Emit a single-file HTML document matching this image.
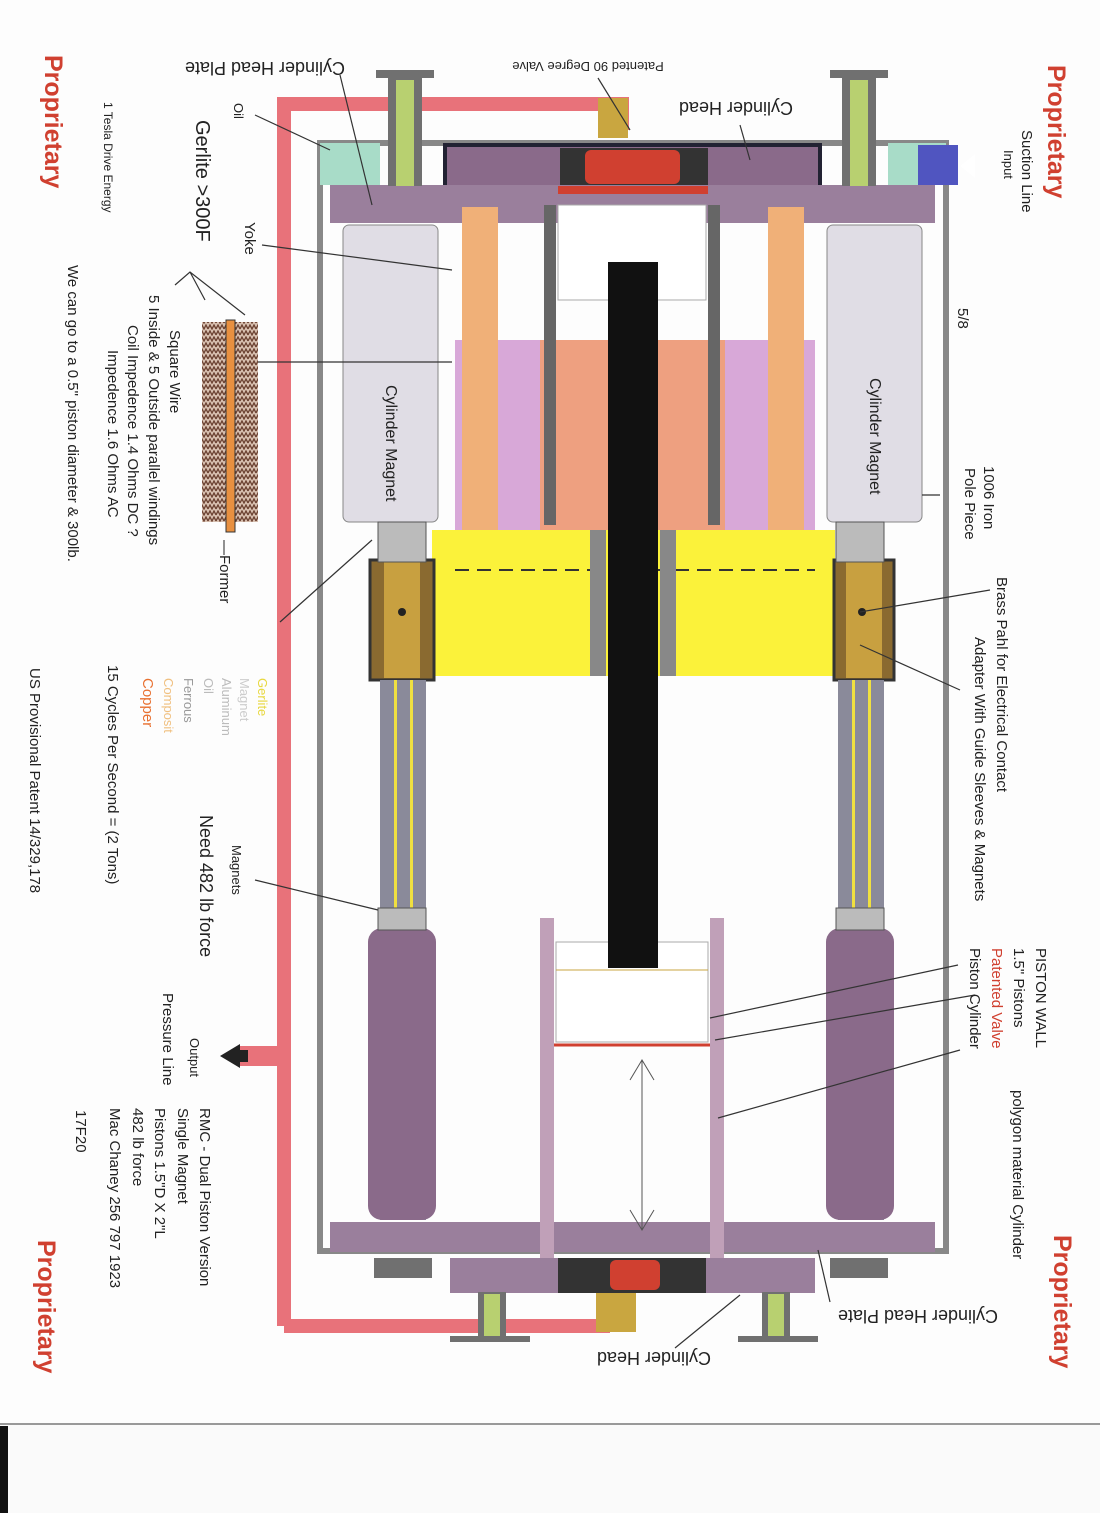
<!DOCTYPE html>
<html><head><meta charset="utf-8"><style>
html,body{margin:0;padding:0;background:#fff}
svg{display:block}
text{font-family:"Liberation Sans",sans-serif;fill:#222}
</style></head><body>
<svg width="1100" height="1513" viewBox="0 0 1100 1513" xmlns="http://www.w3.org/2000/svg">
<defs>
<pattern id="zz" width="8" height="6" patternUnits="userSpaceOnUse">
<rect width="8" height="6" fill="#d8c0b0"/>
<path d="M0 5 L2 1 L4 5 L6 1 L8 5" fill="none" stroke="#6a4030" stroke-width="1.3"/>
</pattern>
</defs>
<rect width="1100" height="1513" fill="#fdfdfd"/>
<rect x="0" y="1424" width="1100" height="89" fill="#fafafa"/>
<line x1="0" y1="1424" x2="1100" y2="1424" stroke="#999" stroke-width="2"/>
<rect x="0" y="1426" width="8" height="87" fill="#111"/>

<path d="M284 1326 L284 104 L622 104 L622 130" fill="none" stroke="#e8727a" stroke-width="14"/>
<path d="M284 1326 L610 1326" fill="none" stroke="#e8727a" stroke-width="14"/>
<rect x="598" y="98" width="30" height="40" fill="#c9a640"/>
<rect x="596" y="1292" width="40" height="40" fill="#c9a640"/>
<rect x="240" y="1046" width="40" height="20" fill="#e8727a"/>
<polygon points="220,1056 240,1044 240,1068" fill="#222"/>
<rect x="232" y="1050" width="16" height="12" fill="#222"/>

<rect x="320" y="143" width="626" height="1108" fill="none" stroke="#888" stroke-width="6"/>
<rect x="320" y="143" width="60" height="42" fill="#a8dcc8"/>
<rect x="888" y="143" width="58" height="42" fill="#a8dcc8"/>
<rect x="918" y="145" width="40" height="40" fill="#5055c0"/>
<polygon points="960,166 975,154 975,178" fill="#fff"/>
<rect x="445" y="145" width="375" height="42" fill="#8a6a8a" stroke="#223" stroke-width="4"/>
<rect x="560" y="148" width="148" height="38" fill="#333"/>
<rect x="585" y="150" width="95" height="34" rx="6" fill="#d04030"/>
<rect x="330" y="185" width="605" height="38" fill="#9a7f9c"/>
<rect x="558" y="186" width="150" height="8" fill="#d04030"/>
<rect x="330" y="1222" width="605" height="30" fill="#9a7f9c"/>
<rect x="450" y="1258" width="365" height="35" fill="#9a7f9c"/>
<rect x="558" y="1258" width="148" height="35" fill="#333"/>
<rect x="610" y="1260" width="50" height="30" rx="6" fill="#d04030"/>

<g fill="#707070">
<rect x="376" y="70" width="58" height="8"/><rect x="830" y="70" width="58" height="8"/>
<rect x="388" y="78" width="34" height="108"/><rect x="842" y="78" width="34" height="108"/>
<rect x="374" y="1258" width="58" height="20"/><rect x="830" y="1258" width="58" height="20"/>
<rect x="478" y="1292" width="28" height="45"/><rect x="762" y="1292" width="28" height="45"/>
<rect x="450" y="1336" width="80" height="6"/><rect x="738" y="1336" width="80" height="6"/>
</g>
<rect x="396" y="80" width="18" height="106" fill="#b8d070"/>
<rect x="850" y="80" width="18" height="106" fill="#b8d070"/>
<rect x="484" y="1294" width="16" height="42" fill="#b8d070"/>
<rect x="768" y="1294" width="16" height="42" fill="#b8d070"/>

<rect x="343" y="225" width="95" height="297" rx="6" fill="#e0dde5" stroke="#888"/>
<rect x="827" y="225" width="95" height="297" rx="6" fill="#e0dde5" stroke="#888"/>
<rect x="455" y="340" width="360" height="190" fill="#d8a8d8"/>
<rect x="540" y="340" width="185" height="190" fill="#eea080"/>
<rect x="462" y="207" width="36" height="323" fill="#f0b078"/>
<rect x="768" y="207" width="36" height="323" fill="#f0b078"/>
<rect x="544" y="205" width="12" height="320" fill="#666"/>
<rect x="708" y="205" width="12" height="320" fill="#666"/>
<rect x="558" y="205" width="148" height="95" fill="#fff" stroke="#aaa"/>
<rect x="432" y="530" width="403" height="146" fill="#fbf23a"/>
<line x1="455" y1="570" x2="815" y2="570" stroke="#333" stroke-dasharray="14,8" stroke-width="2"/>
<rect x="590" y="530" width="16" height="146" fill="#888"/>
<rect x="660" y="530" width="16" height="146" fill="#888"/>
<rect x="370" y="560" width="64" height="120" fill="#8a6a30" stroke="#333" stroke-width="3"/>
<rect x="834" y="560" width="60" height="120" fill="#8a6a30" stroke="#333" stroke-width="3"/>
<rect x="384" y="562" width="36" height="116" fill="#c8a040"/>
<rect x="846" y="562" width="36" height="116" fill="#c8a040"/>
<circle cx="402" cy="612" r="4" fill="#222"/><circle cx="862" cy="612" r="4" fill="#222"/>
<rect x="380" y="680" width="46" height="540" fill="#8a8a9a"/>
<rect x="838" y="680" width="46" height="540" fill="#8a8a9a"/>
<rect x="394" y="680" width="3" height="540" fill="#f0e040"/><rect x="410" y="680" width="3" height="540" fill="#f0e040"/>
<rect x="852" y="680" width="3" height="540" fill="#f0e040"/><rect x="868" y="680" width="3" height="540" fill="#f0e040"/>
<rect x="368" y="928" width="68" height="292" rx="14" fill="#8a6a8a"/>
<rect x="826" y="928" width="68" height="292" rx="14" fill="#8a6a8a"/>
<rect x="378" y="908" width="48" height="22" fill="#bbb" stroke="#555"/>
<rect x="836" y="908" width="48" height="22" fill="#bbb" stroke="#555"/>
<rect x="378" y="522" width="48" height="40" fill="#bbb" stroke="#555"/>
<rect x="836" y="522" width="48" height="40" fill="#bbb" stroke="#555"/>
<rect x="556" y="942" width="152" height="100" fill="#fff" stroke="#aaa"/>
<line x1="556" y1="970" x2="708" y2="970" stroke="#c9a640"/>
<rect x="608" y="262" width="50" height="706" fill="#111"/>
<rect x="540" y="918" width="14" height="340" fill="#c0a0b8"/>
<rect x="710" y="918" width="14" height="340" fill="#c0a0b8"/>
<line x1="554" y1="1045" x2="710" y2="1045" stroke="#d04030" stroke-width="3"/>
<line x1="642" y1="1060" x2="642" y2="1230" stroke="#555"/>
<path d="M630 1080 L642 1060 L654 1080 M630 1210 L642 1230 L654 1210" fill="none" stroke="#555"/>

<g stroke="#333" stroke-width="1.2" fill="none">
<line x1="262" y1="245" x2="452" y2="270"/>
<line x1="258" y1="362" x2="452" y2="362"/>
<line x1="280" y1="622" x2="372" y2="540"/>
<line x1="255" y1="880" x2="378" y2="910"/>
<line x1="940" y1="495" x2="922" y2="495"/>
<line x1="990" y1="590" x2="860" y2="612"/>
<line x1="960" y1="690" x2="860" y2="645"/>
<line x1="958" y1="965" x2="710" y2="1018"/>
<line x1="975" y1="995" x2="715" y2="1040"/>
<line x1="960" y1="1050" x2="718" y2="1118"/>
<line x1="830" y1="1302" x2="818" y2="1250"/>
<line x1="675" y1="1348" x2="740" y2="1295"/>
<line x1="255" y1="115" x2="330" y2="150"/>
<line x1="340" y1="75" x2="372" y2="205"/>
<line x1="740" y1="125" x2="750" y2="160"/>
<line x1="598" y1="78" x2="630" y2="130"/>
<path d="M175 285 L190 272 L245 315 M190 272 L205 300"/>
</g>
<rect x="202" y="322" width="56" height="200" fill="url(#zz)"/>
<rect x="226" y="320" width="9" height="212" fill="#e89040" stroke="#333"/>

<g font-size="15">
<text transform="rotate(90 1048 65)" x="1048" y="65" font-size="25" font-weight="bold" style="fill:#d04030">Proprietary</text>
<text transform="rotate(90 1022 130)" x="1022" y="130">Suction Line</text>
<text transform="rotate(90 1004 150)" x="1004" y="150" font-size="13">Input</text>
<text transform="rotate(90 958 308)" x="958" y="308">5/8</text>
<text transform="rotate(90 984 466)" x="984" y="466">1006 Iron</text>
<text transform="rotate(90 965 468)" x="965" y="468">Pole Piece</text>
<text transform="rotate(90 997 577)" x="997" y="577">Brass Pahl for Electrical Contact</text>
<text transform="rotate(90 975 637)" x="975" y="637">Adapter With Guide Sleeves &amp; Magnets</text>
<text transform="rotate(90 1036 948)" x="1036" y="948">PISTON WALL</text>
<text transform="rotate(90 1014 948)" x="1014" y="948">1.5" Pistons</text>
<text transform="rotate(90 992 948)" x="992" y="948" style="fill:#d04030">Patented Valve</text>
<text transform="rotate(90 970 948)" x="970" y="948">Piston  Cylinder</text>
<text transform="rotate(90 1013 1090)" x="1013" y="1090">polygon material Cylinder</text>
<text transform="rotate(90 1054 1235)" x="1054" y="1235" font-size="25" font-weight="bold" style="fill:#d04030">Proprietary</text>
<text transform="rotate(180 918 1310)" x="918" y="1310" text-anchor="middle" font-size="18">Cylinder Head Plate</text>
<text transform="rotate(180 654 1352)" x="654" y="1352" text-anchor="middle" font-size="18">Cylinder Head</text>
<text transform="rotate(180 736 102)" x="736" y="102" text-anchor="middle" font-size="18">Cylinder Head</text>
<text transform="rotate(180 588 62)" x="588" y="62" text-anchor="middle" font-size="13">Patented 90 Degree Valve</text>
<text transform="rotate(180 265 62)" x="265" y="62" text-anchor="middle" font-size="18">Cylinder Head Plate</text>
<text transform="rotate(90 234 103)" x="234" y="103" font-size="13">Oil</text>
<text transform="rotate(90 196 120)" x="196" y="120" font-size="20">Gerlite &gt;300F</text>
<text transform="rotate(90 245 222)" x="245" y="222">Yoke</text>
<text transform="rotate(90 104 102)" x="104" y="102" font-size="12">1 Tesla Drive Energy</text>
<text transform="rotate(90 45 55)" x="45" y="55" font-size="25" font-weight="bold" style="fill:#d04030">Proprietary</text>
<text transform="rotate(90 170 330)" x="170" y="330">Square Wire</text>
<text transform="rotate(90 149 295)" x="149" y="295">5 Inside &amp; 5 Outside parallel windings</text>
<text transform="rotate(90 128 325)" x="128" y="325">Coil Impedence 1.4 Ohms DC ?</text>
<text transform="rotate(90 108 350)" x="108" y="350">Impedence 1.6 Ohms AC</text>
<text transform="rotate(90 68 265)" x="68" y="265">We can go to a 0.5" piston diameter &amp; 300lb.</text>
<text transform="rotate(90 220 540)" x="220" y="540">—Former</text>
<text transform="rotate(90 386 385)" x="386" y="385" font-size="16">Cylinder Magnet</text>
<text transform="rotate(90 870 378)" x="870" y="378" font-size="16">Cylinder Magnet</text>
<text transform="rotate(90 258 678)" x="258" y="678" font-size="13" style="fill:#e8d840">Gerlite</text>
<text transform="rotate(90 240 678)" x="240" y="678" font-size="13" style="fill:#ccc">Magnet</text>
<text transform="rotate(90 222 678)" x="222" y="678" font-size="13" style="fill:#bbb">Aluminum</text>
<text transform="rotate(90 204 678)" x="204" y="678" font-size="13" style="fill:#bbb">Oil</text>
<text transform="rotate(90 184 678)" x="184" y="678" font-size="13" style="fill:#999">Ferrous</text>
<text transform="rotate(90 164 678)" x="164" y="678" font-size="13" style="fill:#f0c080">Composit</text>
<text transform="rotate(90 143 678)" x="143" y="678" font-size="15" style="fill:#e87030">Copper</text>
<text transform="rotate(90 108 665)" x="108" y="665">15 Cycles Per  Second = (2 Tons)</text>
<text transform="rotate(90 30 668)" x="30" y="668">US Provisional Patent 14/329,178</text>
<text transform="rotate(90 232 845)" x="232" y="845" font-size="13">Magnets</text>
<text transform="rotate(90 200 815)" x="200" y="815" font-size="18">Need 482 lb force</text>
<text transform="rotate(90 190 1038)" x="190" y="1038" font-size="13">Output</text>
<text transform="rotate(90 163 993)" x="163" y="993">Pressure Line</text>
<text transform="rotate(90 200 1108)" x="200" y="1108">RMC - Dual Piston Version</text>
<text transform="rotate(90 178 1108)" x="178" y="1108">Single Magnet</text>
<text transform="rotate(90 155 1108)" x="155" y="1108">Pistons 1.5"D X 2"L</text>
<text transform="rotate(90 133 1108)" x="133" y="1108">482 lb force</text>
<text transform="rotate(90 110 1108)" x="110" y="1108">Mac Chaney   256 797 1923</text>
<text transform="rotate(90 76 1110)" x="76" y="1110">17F20</text>
<text transform="rotate(90 38 1240)" x="38" y="1240" font-size="25" font-weight="bold" style="fill:#d04030">Proprietary</text>
</g>
</svg>
</body></html>
